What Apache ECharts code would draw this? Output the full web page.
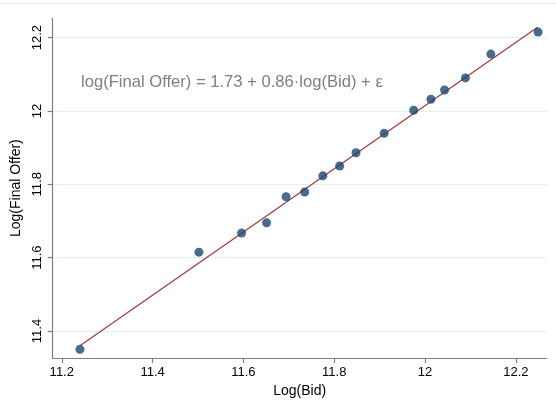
<!DOCTYPE html>
<html>
<head>
<meta charset="utf-8">
<script src="https://cdn.jsdelivr.net/npm/echarts@6/dist/echarts.min.js"></script>
<style>
html,body{margin:0;padding:0;background:#fff;}
#c{width:556px;height:413px;}
</style>
</head>
<body>
<div id="c"></div>
<script>
// Data
const logBid = [11.240, 11.502, 11.596, 11.651, 11.694, 11.735, 11.775, 11.812, 11.848, 11.910, 11.975, 12.013, 12.043, 12.089, 12.145, 12.249];
const logFinalOffer = [11.350, 11.615, 11.667, 11.695, 11.766, 11.779, 11.823, 11.850, 11.886, 11.939, 12.002, 12.032, 12.057, 12.090, 12.155, 12.215];
const fitX = [11.240, 12.248];
const fitY = [11.360, 12.228];
const xTicks = [11.2, 11.4, 11.6, 11.8, 12, 12.2];
const yTicks = [11.4, 11.6, 11.8, 12, 12.2];
const xRange = [11.180, 12.268];
const yRange = [11.3264, 12.2526];
const annotation = 'log(Final Offer) = 1.73 + 0.86\u00b7log(Bid) + \u03b5';

const FONT = "'Liberation Sans', Arial, Helvetica, sans-serif";
const chart = echarts.init(document.getElementById('c'), null, {renderer: 'canvas'});
const scatterData = logBid.map((x, i) => [x, logFinalOffer[i]]);
const lineData = fitX.map((x, i) => [x, fitY[i]]);

chart.setOption({
  animation: false,
  backgroundColor: '#ffffff',
  grid: {left: 52.7, right: 9.3, top: 18.3, bottom: 55, containLabel: false},
  xAxis: {
    type: 'value',
    min: xRange[0], max: xRange[1],
    name: 'Log(Bid)', nameLocation: 'middle', nameGap: 25,
    nameTextStyle: {fontFamily: FONT, fontSize: 14, color: '#000'},
    axisLine: {show: true, lineStyle: {color: '#7f7f7f', width: 1.2}},
    axisTick: {show: true, length: 5, lineStyle: {color: '#7f7f7f', width: 1.2}, customValues: xTicks},
    axisLabel: {fontFamily: FONT, fontSize: 13, color: '#000', margin: 8, customValues: xTicks,
      formatter: v => String(+v.toFixed(1))},
    splitLine: {show: false}
  },
  yAxis: {
    type: 'value',
    min: yRange[0], max: yRange[1],
    name: 'Log(Final Offer)', nameLocation: 'middle', nameGap: 30, nameRotate: 90,
    nameTextStyle: {fontFamily: FONT, fontSize: 14, color: '#000'},
    axisLine: {show: true, lineStyle: {color: '#7f7f7f', width: 1.2}},
    axisTick: {show: true, length: 5, lineStyle: {color: '#7f7f7f', width: 1.2}, customValues: yTicks},
    axisLabel: {fontFamily: FONT, fontSize: 13, color: '#000', margin: 9, rotate: 90, customValues: yTicks,
      formatter: v => String(+v.toFixed(1))},
    splitLine: {show: true, lineStyle: {color: '#e5eff2', width: 1}}
  },
  graphic: [
    {type: 'text', left: 81, top: 74, style: {text: annotation, fontFamily: FONT, fontSize: 16.6, fill: '#7f7f7f'}},
    {type: 'rect', shape: {x: 0, y: 3, width: 556, height: 1}, style: {fill: '#eeeeee'}, silent: true}
  ],
  series: [
    {
      type: 'line', data: lineData, showSymbol: false, symbol: 'none',
      lineStyle: {color: '#a33b42', width: 1.3}, z: 2
    },
    {
      type: 'scatter', data: scatterData, symbol: 'circle', symbolSize: 9,
      itemStyle: {color: '#1a476f'}, z: 3
    }
  ]
});
</script>
</body>
</html>
